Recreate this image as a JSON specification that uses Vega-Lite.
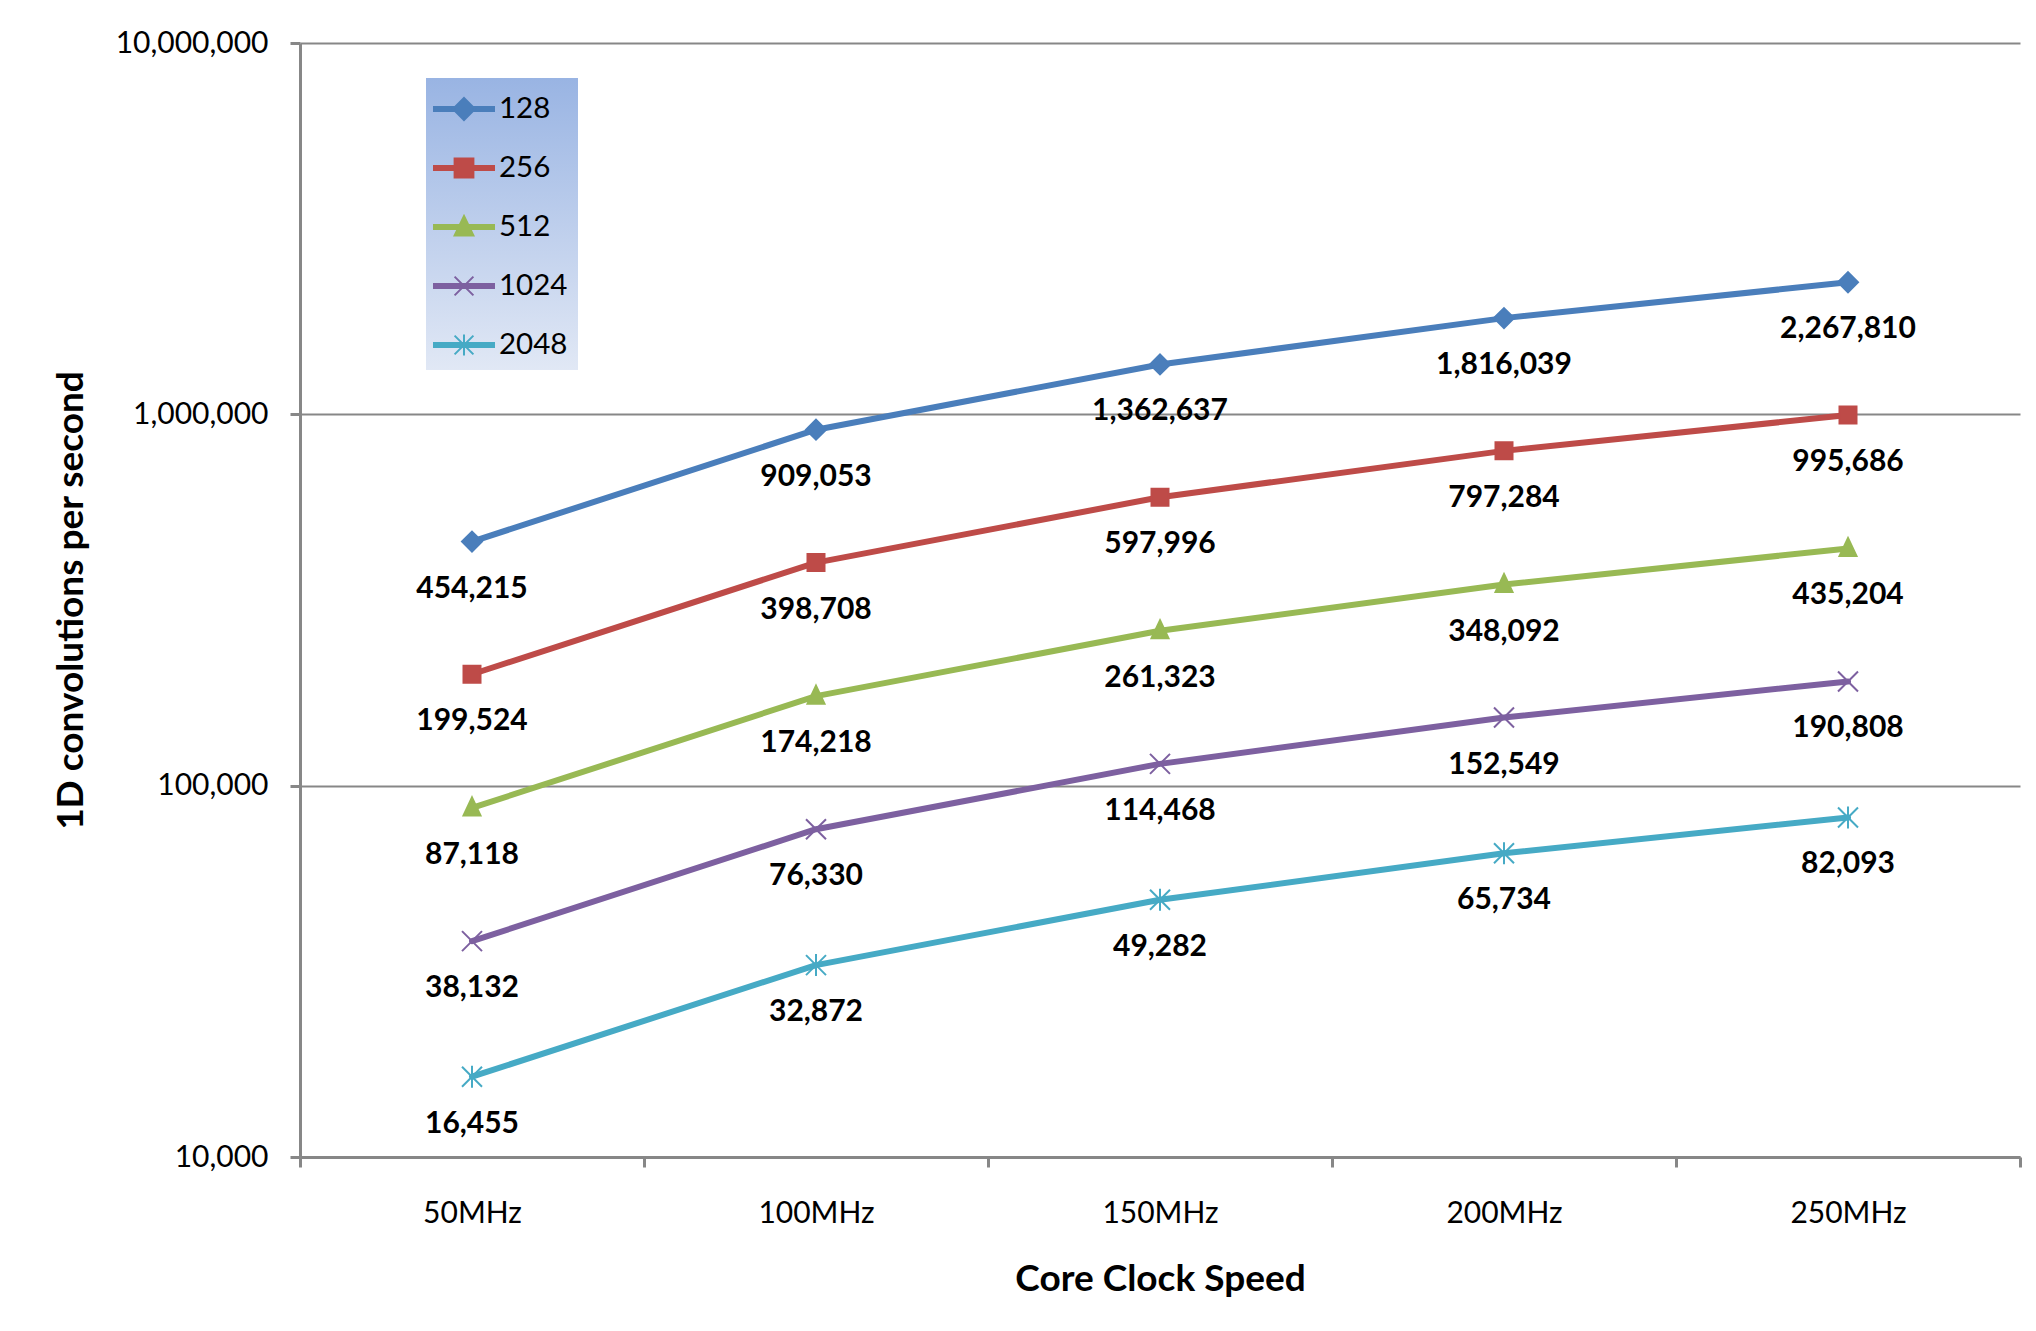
{
  "$schema": "https://vega.github.io/schema/vega-lite/v6.json",
  "width": 1720,
  "height": 1114,
  "autosize": {"type": "none"},
  "padding": {"left": 300, "top": 43, "right": 16, "bottom": 174},
  "background": "white",
  "config": {
    "font": "Lato",
    "view": {"stroke": null},
    "axis": {
      "labelFont": "Lato",
      "labelFontSize": 30,
      "labelColor": "#000000",
      "titleFont": "Lato",
      "titleFontSize": 37,
      "titleFontWeight": "bold",
      "titleColor": "#000000",
      "domainColor": "#878787",
      "domainWidth": 3,
      "tickColor": "#878787",
      "tickWidth": 3,
      "tickSize": 10
    },
    "legend": {
      "orient": "none",
      "legendX": 126,
      "legendY": 35,
      "padding": 10,
      "symbolOffset": 7,
      "labelOffset": 14,
      "rowPadding": 23,
      "symbolSize": 1600,
      "symbolStrokeWidth": 2,
      "symbolOpacity": 1,
      "labelFont": "Lato",
      "labelFontSize": 29.5,
      "labelColor": "#000000",
      "labelBaseline": "middle"
    }
  },
  "data": {
    "values": [
      {"clock": "50MHz", "series": "128", "rate": 454215},
      {"clock": "100MHz", "series": "128", "rate": 909053},
      {"clock": "150MHz", "series": "128", "rate": 1362637},
      {"clock": "200MHz", "series": "128", "rate": 1816039},
      {"clock": "250MHz", "series": "128", "rate": 2267810},
      {"clock": "50MHz", "series": "256", "rate": 199524},
      {"clock": "100MHz", "series": "256", "rate": 398708},
      {"clock": "150MHz", "series": "256", "rate": 597996},
      {"clock": "200MHz", "series": "256", "rate": 797284},
      {"clock": "250MHz", "series": "256", "rate": 995686},
      {"clock": "50MHz", "series": "512", "rate": 87118},
      {"clock": "100MHz", "series": "512", "rate": 174218},
      {"clock": "150MHz", "series": "512", "rate": 261323},
      {"clock": "200MHz", "series": "512", "rate": 348092},
      {"clock": "250MHz", "series": "512", "rate": 435204},
      {"clock": "50MHz", "series": "1024", "rate": 38132},
      {"clock": "100MHz", "series": "1024", "rate": 76330},
      {"clock": "150MHz", "series": "1024", "rate": 114468},
      {"clock": "200MHz", "series": "1024", "rate": 152549},
      {"clock": "250MHz", "series": "1024", "rate": 190808},
      {"clock": "50MHz", "series": "2048", "rate": 16455},
      {"clock": "100MHz", "series": "2048", "rate": 32872},
      {"clock": "150MHz", "series": "2048", "rate": 49282},
      {"clock": "200MHz", "series": "2048", "rate": 65734},
      {"clock": "250MHz", "series": "2048", "rate": 82093}
    ]
  },
  "encoding": {
    "x": {
      "field": "clock",
      "type": "ordinal",
      "sort": ["50MHz", "100MHz", "150MHz", "200MHz", "250MHz"],
      "scale": {"type": "band", "paddingInner": 0, "paddingOuter": 0},
      "axis": {
        "title": "Core Clock Speed",
        "titleX": 860,
        "titleY": 122,
        "titleBaseline": "middle",
        "titleAlign": "center",
        "labelAngle": 0,
        "labelPadding": 46,
        "labelBaseline": "middle",
        "tickBand": "extent",
        "grid": false
      }
    },
    "y": {
      "field": "rate",
      "type": "quantitative",
      "scale": {"type": "log", "domain": [10000, 10000000]},
      "axis": {
        "title": "1D convolutions per second",
        "values": [10000, 100000, 1000000, 10000000],
        "format": ",d",
        "titleX": -229,
        "titleY": 557,
        "titleAngle": -90,
        "titleBaseline": "middle",
        "titleAlign": "center",
        "labelPadding": 22,
        "grid": true,
        "gridColor": "#878787",
        "gridWidth": 2
      }
    }
  },
  "layer": [
    {
      "transform": [{"filter": {"field": "series", "equal": "128"}}],
      "mark": {"type": "line", "stroke": "#4A7EBB", "strokeWidth": 6, "strokeCap": "round", "strokeJoin": "round"},
      "encoding": {"order": {"value": null}}
    },
    {
      "transform": [{"filter": {"field": "series", "equal": "256"}}],
      "mark": {"type": "line", "stroke": "#BE4B48", "strokeWidth": 6, "strokeCap": "round", "strokeJoin": "round"},
      "encoding": {"order": {"value": null}}
    },
    {
      "transform": [{"filter": {"field": "series", "equal": "512"}}],
      "mark": {"type": "line", "stroke": "#98B954", "strokeWidth": 6, "strokeCap": "round", "strokeJoin": "round"},
      "encoding": {"order": {"value": null}}
    },
    {
      "transform": [{"filter": {"field": "series", "equal": "1024"}}],
      "mark": {"type": "line", "stroke": "#7D60A0", "strokeWidth": 6, "strokeCap": "round", "strokeJoin": "round"},
      "encoding": {"order": {"value": null}}
    },
    {
      "transform": [{"filter": {"field": "series", "equal": "2048"}}],
      "mark": {"type": "line", "stroke": "#46AAC5", "strokeWidth": 6, "strokeCap": "round", "strokeJoin": "round"},
      "encoding": {"order": {"value": null}}
    },
    {
      "transform": [{"filter": {"field": "series", "equal": "128"}}],
      "mark": {"type": "point", "shape": "M0,-2L2,0L0,2L-2,0Z", "size": 100, "filled": true, "opacity": 1, "fill": "#4A7EBB", "stroke": "#4A7EBB", "strokeWidth": 2}
    },
    {
      "transform": [{"filter": {"field": "series", "equal": "256"}}],
      "mark": {"type": "point", "shape": "M-1.7,-1.7L1.7,-1.7L1.7,1.7L-1.7,1.7Z", "size": 100, "filled": true, "opacity": 1, "fill": "#BE4B48", "stroke": "#BE4B48", "strokeWidth": 2}
    },
    {
      "transform": [{"filter": {"field": "series", "equal": "512"}}],
      "mark": {"type": "point", "shape": "M0,-2.1L1.7,1.5L-1.7,1.5Z", "size": 100, "filled": true, "opacity": 1, "fill": "#98B954", "stroke": "#98B954", "strokeWidth": 2}
    },
    {
      "transform": [{"filter": {"field": "series", "equal": "1024"}}],
      "mark": {"type": "point", "shape": "M-2,-2L2,2M-2,2L2,-2", "size": 100, "filled": false, "opacity": 1, "stroke": "#7D60A0", "strokeWidth": 2}
    },
    {
      "transform": [{"filter": {"field": "series", "equal": "2048"}}],
      "mark": {"type": "point", "shape": "M-2,-2L2,2M-2,2L2,-2M0,-2.2L0,2.2", "size": 100, "filled": false, "opacity": 1, "stroke": "#46AAC5", "strokeWidth": 2}
    },
    {
      "mark": {"type": "text", "dy": 47, "baseline": "middle", "align": "center", "font": "Lato", "fontSize": 30, "fontWeight": "bold", "fill": "#000000"},
      "encoding": {
        "text": {"field": "rate", "type": "quantitative", "format": ",d"}
      }
    },
    {
      "transform": [{"filter": "false"}],
      "mark": {"type": "point", "filled": true, "opacity": 1, "strokeWidth": 2},
      "encoding": {
        "fill": {
          "field": "series",
          "type": "nominal",
          "scale": {
            "domain": ["128", "256", "512", "1024", "2048"],
            "range": ["#4A7EBB", "#BE4B48", "#98B954", "#7D60A0", "#46AAC5"]
          },
          "legend": {
            "title": null,
            "orient": "none",
            "legendX": 126,
            "legendY": 35,
            "encode": {
              "legend": {
                "update": {
                  "fill": {
                    "value": {
                      "gradient": "linear",
                      "x1": 0, "y1": 0, "x2": 0, "y2": 1,
                      "stops": [
                        {"offset": 0, "color": "#99B4E3"},
                        {"offset": 1, "color": "#E1E8F5"}
                      ]
                    }
                  }
                }
              }
            }
          }
        },
        "stroke": {
          "field": "series",
          "type": "nominal",
          "scale": {
            "domain": ["128", "256", "512", "1024", "2048"],
            "range": ["#4A7EBB", "#BE4B48", "#98B954", "#7D60A0", "#46AAC5"]
          },
          "legend": {"title": null, "orient": "none", "legendX": 126, "legendY": 35}
        },
        "shape": {
          "field": "series",
          "type": "nominal",
          "scale": {
            "domain": ["128", "256", "512", "1024", "2048"],
            "range": [
              "M-1.5,-0.1L1.5,-0.1L1.5,0.1L-1.5,0.1ZM0,-0.55L0.55,0L0,0.55L-0.55,0Z",
              "M-1.5,-0.1L1.5,-0.1L1.5,0.1L-1.5,0.1ZM-0.47,-0.47L0.47,-0.47L0.47,0.47L-0.47,0.47Z",
              "M-1.5,-0.1L1.5,-0.1L1.5,0.1L-1.5,0.1ZM0,-0.55L0.47,0.42L-0.47,0.42Z",
              "M-1.5,-0.1L1.5,-0.1L1.5,0.1L-1.5,0.1ZM-0.47,-0.47L0.47,0.47M-0.47,0.47L0.47,-0.47",
              "M-1.5,-0.1L1.5,-0.1L1.5,0.1L-1.5,0.1ZM-0.47,-0.47L0.47,0.47M-0.47,0.47L0.47,-0.47M0,-0.52L0,0.52"
            ]
          },
          "legend": {"title": null, "orient": "none", "legendX": 126, "legendY": 35}
        }
      }
    }
  ]
}
